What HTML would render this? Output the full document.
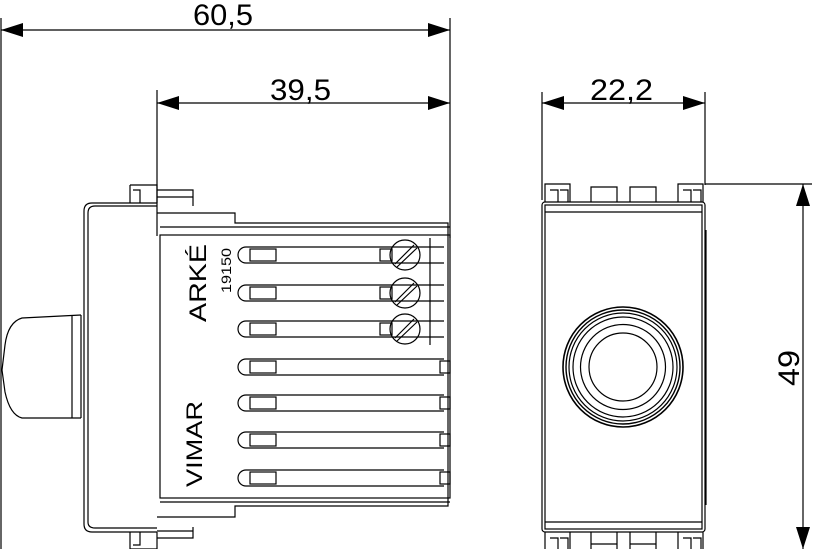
<!DOCTYPE html>
<html><head><style>html,body{margin:0;padding:0;background:#fff}svg{display:block}</style></head><body>
<svg width="814" height="549" viewBox="0 0 814 549" xmlns="http://www.w3.org/2000/svg" fill="none" stroke="#000" stroke-width="1.2">
<defs>
<marker id="a" markerWidth="22" markerHeight="14" refX="22" refY="7" orient="auto" markerUnits="userSpaceOnUse"><path d="M0,0 L22,7 L0,14 Z" fill="#000" stroke="none"/></marker>
<marker id="b" markerWidth="22" markerHeight="14" refX="0" refY="7" orient="auto" markerUnits="userSpaceOnUse"><path d="M22,0 L0,7 L22,14 Z" fill="#000" stroke="none"/></marker>
</defs>
<g font-family="Liberation Sans, sans-serif" fill="#000" stroke="none">
<text x="193" y="25" font-size="30" textLength="60" lengthAdjust="spacingAndGlyphs">60,5</text>
<text x="270" y="100" font-size="30" textLength="61" lengthAdjust="spacingAndGlyphs">39,5</text>
<text x="590" y="100" font-size="30" textLength="63" lengthAdjust="spacingAndGlyphs">22,2</text>
<text transform="translate(799,386) rotate(-90)" font-size="30" textLength="36" lengthAdjust="spacingAndGlyphs">49</text>
<text transform="translate(206,322) rotate(-90)" font-size="24" textLength="78" lengthAdjust="spacingAndGlyphs">ARKÉ</text>
<text transform="translate(231,293) rotate(-90)" font-size="14" textLength="45" lengthAdjust="spacingAndGlyphs">19150</text>
<text transform="translate(202,487) rotate(-90)" font-size="22" textLength="86" lengthAdjust="spacingAndGlyphs">VIMAR</text>
</g>
<!-- dimensions -->
<line x1="1" y1="30" x2="450" y2="30" marker-start="url(#b)" marker-end="url(#a)"/>
<line x1="157" y1="103" x2="450" y2="103" marker-start="url(#b)" marker-end="url(#a)"/>
<line x1="1" y1="18" x2="1" y2="549"/>
<line x1="450" y1="18" x2="450" y2="238"/>
<line x1="157" y1="90" x2="157" y2="236"/>
<line x1="542" y1="103" x2="705" y2="103" marker-start="url(#b)" marker-end="url(#a)"/>
<line x1="542" y1="92" x2="542" y2="200"/>
<line x1="705" y1="92" x2="705" y2="185"/>
<line x1="705" y1="184" x2="812" y2="184"/>
<line x1="803" y1="184" x2="803" y2="549" marker-start="url(#b)" marker-end="url(#a)"/>
<!-- left view -->
<path d="M81,315 L22,318 Q8,322 5,345 L2,370 L5,392 Q10,415 22,418 L81,418"/>
<line x1="72" y1="315" x2="72" y2="418"/>
<path d="M157,203 L92,203 Q84,203 84,211 L84,524 Q84,532 92,532 L157,532"/>
<path d="M157,206 L95,206 Q88,206 88,213 L88,522 Q88,528 95,528 L157,528"/>
<line x1="81" y1="315" x2="81" y2="418"/>
<path d="M130,185 L157,185 L157,203 M130,185 L130,203 M133,190 L140,190 L140,203"/>
<path d="M130,549 L157,549 L157,532 M130,549 L130,532 M133,545 L140,545 L140,532"/>
<path d="M157,190 L193,190 L193,206 M157,197 L193,197 M157,213 L235,213 L235,223 L448,223 L448,506 L235,506 L235,517 L157,517"/>
<path d="M157,538 L193,538 L193,527 M157,531 L193,531"/>
<rect x="160" y="235" width="290" height="263"/>
<line x1="160" y1="227" x2="450" y2="227"/>
<line x1="160" y1="502" x2="450" y2="502"/>
<g>
<path d="M246,247 L444,247 M246,263 L444,263 M246,247 A8,8 0 0 0 246,263"/>
<path d="M246,285 L444,285 M246,301 L444,301 M246,285 A8,8 0 0 0 246,301"/>
<path d="M246,321 L444,321 M246,337 L444,337 M246,321 A8,8 0 0 0 246,337"/>
<path d="M246,359 L444,359 M246,375 L444,375 M246,359 A8,8 0 0 0 246,375"/>
<path d="M246,395 L444,395 M246,411 L444,411 M246,395 A8,8 0 0 0 246,411"/>
<path d="M246,432 L444,432 M246,448 L444,448 M246,432 A8,8 0 0 0 246,448"/>
<path d="M246,470 L444,470 M246,486 L444,486 M246,470 A8,8 0 0 0 246,486"/>
<rect x="250" y="249" width="26" height="12"/><rect x="250" y="287" width="26" height="12"/>
<rect x="250" y="323" width="26" height="12"/><rect x="250" y="361" width="26" height="12"/>
<rect x="250" y="397" width="26" height="12"/><rect x="250" y="434" width="26" height="12"/>
<rect x="250" y="472" width="26" height="12"/>
<rect x="380" y="249" width="12" height="12"/><rect x="380" y="287" width="12" height="12"/><rect x="380" y="323" width="12" height="12"/>
<rect x="440" y="361" width="10" height="12"/><rect x="440" y="397" width="10" height="12"/><rect x="440" y="434" width="10" height="12"/><rect x="440" y="472" width="10" height="12"/>
<line x1="430" y1="238" x2="430" y2="345"/>
<circle cx="405" cy="255" r="15"/><circle cx="405" cy="293" r="15"/><circle cx="405" cy="329" r="15"/>
<path d="M395,264 L414,245 M397,267 L417,248 M395,302 L414,283 M397,305 L417,286 M395,338 L414,319 M397,341 L417,322"/>
</g>
<!-- right view -->
<rect x="542" y="202" width="163" height="330" rx="3"/>
<rect x="545" y="205" width="157" height="324"/>
<line x1="545" y1="212" x2="702" y2="212"/>
<line x1="545" y1="522" x2="702" y2="522"/>
<line x1="706" y1="230" x2="706" y2="505"/>
<path d="M545,202 L545,184 L570,184 L570,202 M550,190 L558,190 L558,202 M560,190 L568,190 L568,202"/>
<path d="M678,202 L678,184 L703,184 L703,202 M683,190 L691,190 L691,202 M693,190 L701,190 L701,202"/>
<path d="M591,202 L591,187 L617,187 L617,202 M630,202 L630,187 L656,187 L656,202"/>
<path d="M545,532 L545,549 M570,532 L570,549 M550,538 L558,538 L558,549 M560,538 L568,538 L568,549"/>
<path d="M678,532 L678,549 M703,532 L703,549 M683,538 L691,538 L691,549 M693,538 L701,538 L701,549"/>
<path d="M591,532 L591,549 M617,532 L617,549 M630,532 L630,549 M656,532 L656,549 M591,544 L617,544 M630,544 L656,544"/>
<circle cx="623" cy="367" r="60" stroke-width="1.6"/>
<circle cx="623" cy="367" r="57" stroke-width="1.4"/>
<circle cx="623" cy="367" r="54"/>
<circle cx="623" cy="367" r="50"/>
<circle cx="623" cy="367" r="42.5"/>
<circle cx="623" cy="367" r="34"/>
</svg>
</body></html>
